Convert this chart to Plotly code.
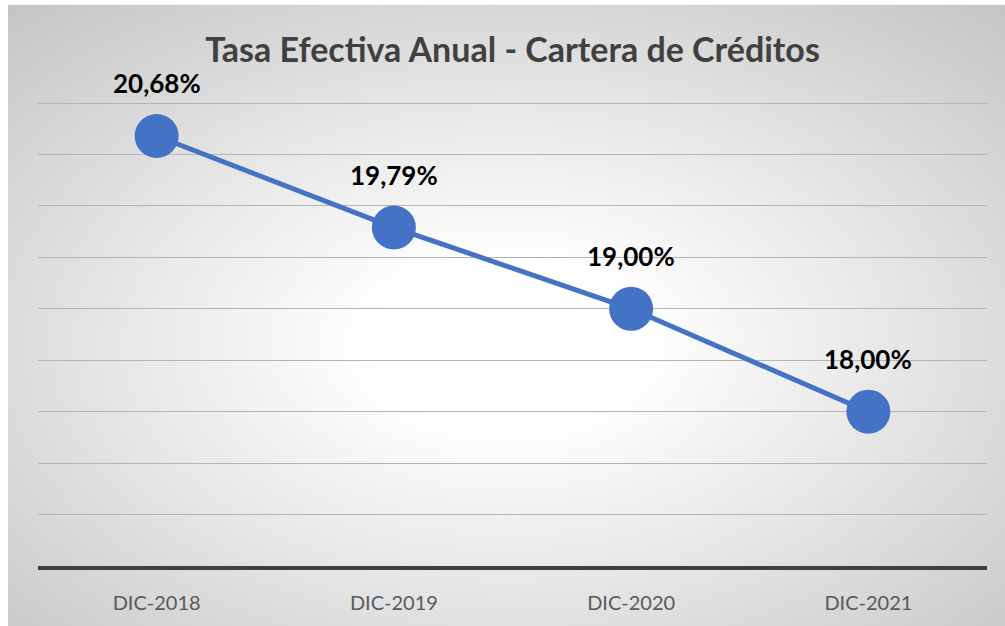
import base64
import plotly.graph_objects as go

categories = ["DIC-2018", "DIC-2019", "DIC-2020", "DIC-2021"]
values = [20.68, 19.79, 19.00, 18.00]
labels = ["20,68%", "19,79%", "19,00%", "18,00%"]
title_text = "Tasa Efectiva Anual - Cartera de Créditos"

W, H = 1005, 626
L, R, T, B = 38, 18, 101, 56
pw, ph = W - L - R, H - T - B

# background: white page with a radial grey gradient panel starting at (8, 4)
EXT = 30  # overshoot beyond the page edges
IW, IH = W + EXT, H + EXT
bx, by = 8, 4
bw, bh = W - bx, H - by
cx, cy = bx + 0.5 * bw, by + 0.55 * bh
rx, ry = 0.75 * bw, 0.75 * bh
svg = (
    f'<svg xmlns="http://www.w3.org/2000/svg" width="{IW}" height="{IH}" viewBox="0 0 {IW} {IH}" preserveAspectRatio="none">'
    f'<defs><radialGradient id="g" gradientUnits="userSpaceOnUse" cx="0" cy="0" r="1" '
    f'gradientTransform="translate({cx} {cy}) scale({rx} {ry})">'
    '<stop offset="0" stop-color="#ffffff"/>'
    '<stop offset="0.18" stop-color="#ffffff"/>'
    '<stop offset="1" stop-color="#c4c4c4"/>'
    '</radialGradient></defs>'
    f'<rect x="0" y="0" width="{IW}" height="{IH}" fill="#ffffff"/>'
    f'<rect x="{bx}" y="{by}" width="{IW}" height="{IH}" fill="url(#g)"/></svg>'
)
src = "data:image/svg+xml;base64," + base64.b64encode(svg.encode()).decode()

fig = go.Figure()
fig.add_trace(go.Scatter(
    x=categories, y=values, mode="lines+markers",
    line=dict(color="#4472C4", width=5),
    marker=dict(color="#4472C4", size=44),
    hoverinfo="skip", showlegend=False,
))
for c, v, t in zip(categories, values, labels):
    fig.add_annotation(x=c, y=v, text=t, showarrow=False, yshift=53,
                       font=dict(family="Lato", size=26, color="#000000", weight="bold"))

fig.update_layout(
    width=W, height=H,
    margin=dict(l=L, r=R, t=T, b=B),
    paper_bgcolor="#ffffff",
    plot_bgcolor="rgba(0,0,0,0)",
    title=dict(text=title_text, x=0.5, xref="paper", xanchor="center",
               y=1 - 50 / H, yref="container", yanchor="middle",
               font=dict(family="Lato", size=34, color="#404040", weight="bold")),
    images=[dict(source=src, xref="paper", yref="paper",
                 x=-L / pw, y=(H - B) / ph,
                 sizex=IW / pw, sizey=IH / ph,
                 xanchor="left", yanchor="top", sizing="stretch", layer="below")],
    xaxis=dict(range=[-0.5, 3.5], showgrid=False, showline=True, linecolor="#404040",
               linewidth=3.5, ticks="", ticklabelstandoff=16,
               tickfont=dict(family="Lato", size=20, color="#595959"), zeroline=False),
    yaxis=dict(range=[16.5, 21.02], tick0=16.5, dtick=0.5, showgrid=True,
               gridcolor="#b4b4b4", gridwidth=1, showticklabels=False,
               zeroline=False, showline=False, ticks=""),
)
fig.write_html("out.html", config={"displayModeBar": False},
               post_script="document.body.style.margin='0';document.body.style.overflow='hidden';")
